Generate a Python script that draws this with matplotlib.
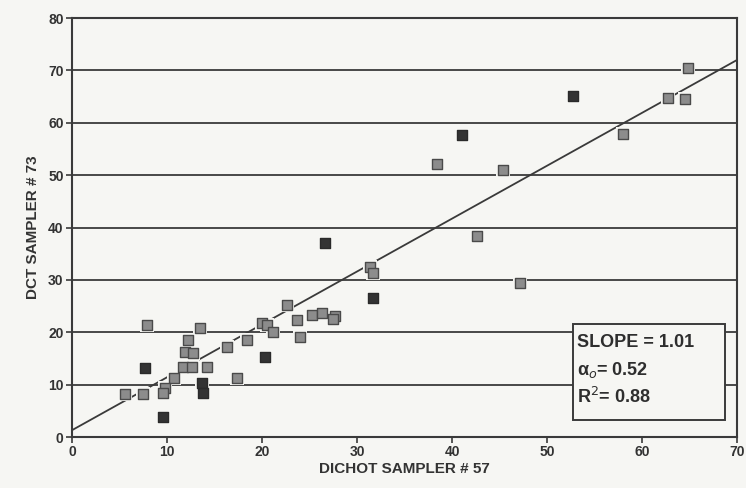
import numpy as np
import matplotlib.pyplot as plt
from matplotlib.patches import Rectangle

# DICHOT sampler #57 (x) vs DCT sampler #73 (y)
light_x = [64.8, 62.7, 64.5, 58.0, 38.4, 45.4, 42.6, 31.4, 31.7, 47.2,
           22.6, 23.7, 24.0, 25.3, 26.3, 27.7, 27.5, 20.0, 20.5, 21.2,
           18.4, 16.3, 17.4, 13.5, 12.2, 11.9, 12.7, 11.7, 12.6, 14.2,
           7.9, 10.7, 9.8, 9.6, 7.5, 5.6]
light_y = [70.4, 64.7, 64.5, 57.8, 52.1, 51.0, 38.4, 32.4, 31.3, 29.4,
           25.2, 22.3, 19.1, 23.3, 23.7, 23.1, 22.5, 21.8, 21.4, 20.0,
           18.5, 17.2, 11.3, 20.8, 18.5, 16.2, 16.0, 13.4, 13.4, 13.4,
           21.4, 11.3, 9.3, 8.4, 8.2, 8.2]

dark_x = [52.7, 41.0, 26.6, 31.7, 9.6, 7.7, 13.7, 13.8, 20.3]
dark_y = [65.1, 57.6, 37.0, 26.5, 3.8, 13.2, 10.3, 8.4, 15.3]

slope = 1.01
intercept = 1.3
stats_lines = ['SLOPE = 1.01', 'α$_o$= 0.52', 'R$^2$= 0.88']

bg = '#f6f6f3'
ink = '#3a3a3a'

fig = plt.figure(figsize=(7.46, 4.88), dpi=100, facecolor=bg)
ax = fig.add_axes([0.0965, 0.1045, 0.8915, 0.8585], facecolor=bg)

for y in range(10, 80, 10):
    ax.axhline(y, color=ink, lw=1.3, zorder=1)

xs = np.array([0, 70])
ax.plot(xs, slope * xs + intercept, color=ink, lw=1.3, zorder=2)

# light halo under the squares, like the gaps in the scanned grid
ax.scatter(light_x + dark_x, light_y + dark_y, marker='s', s=100,
           color=bg, edgecolors='none', zorder=3)
ax.scatter(light_x, light_y, marker='s', s=55, color='#8c8c8c',
           edgecolors='#4a4a4a', linewidths=1.0, zorder=4)
ax.scatter(dark_x, dark_y, marker='s', s=55, color='#333333',
           edgecolors='#2a2a2a', linewidths=1.0, zorder=4)

box = Rectangle((52.7, 3.2), 16.0, 18.4, facecolor=bg, edgecolor=ink,
                lw=1.4, zorder=5)
ax.add_patch(box)
for i, line in enumerate(stats_lines):
    ax.text(53.2, 18.1 - i * 5.25, line, fontsize=13, fontweight='bold',
            family='Liberation Sans', color='#2e2e2e', va='center',
            ha='left', zorder=6)

ax.set_xlim(0, 70)
ax.set_ylim(0, 80)
ax.set_xticks(range(0, 71, 10))
ax.set_yticks(range(0, 81, 10))
ax.tick_params(direction='out', length=4, width=1.2, color=ink,
               labelsize=10, labelcolor='#333333', pad=2)
for lab in ax.get_xticklabels() + ax.get_yticklabels():
    lab.set_fontweight('bold')
    lab.set_family('Liberation Sans')
for sp in ax.spines.values():
    sp.set_color(ink)
    sp.set_linewidth(1.5)

ax.set_xlabel('DICHOT SAMPLER # 57', fontsize=11, fontweight='bold',
              family='Liberation Sans', color='#333333', labelpad=2)
ax.set_ylabel('DCT SAMPLER # 73', fontsize=11, fontweight='bold',
              family='Liberation Sans', color='#333333', labelpad=6)

fig.savefig('out.png', dpi=100, facecolor=bg)
